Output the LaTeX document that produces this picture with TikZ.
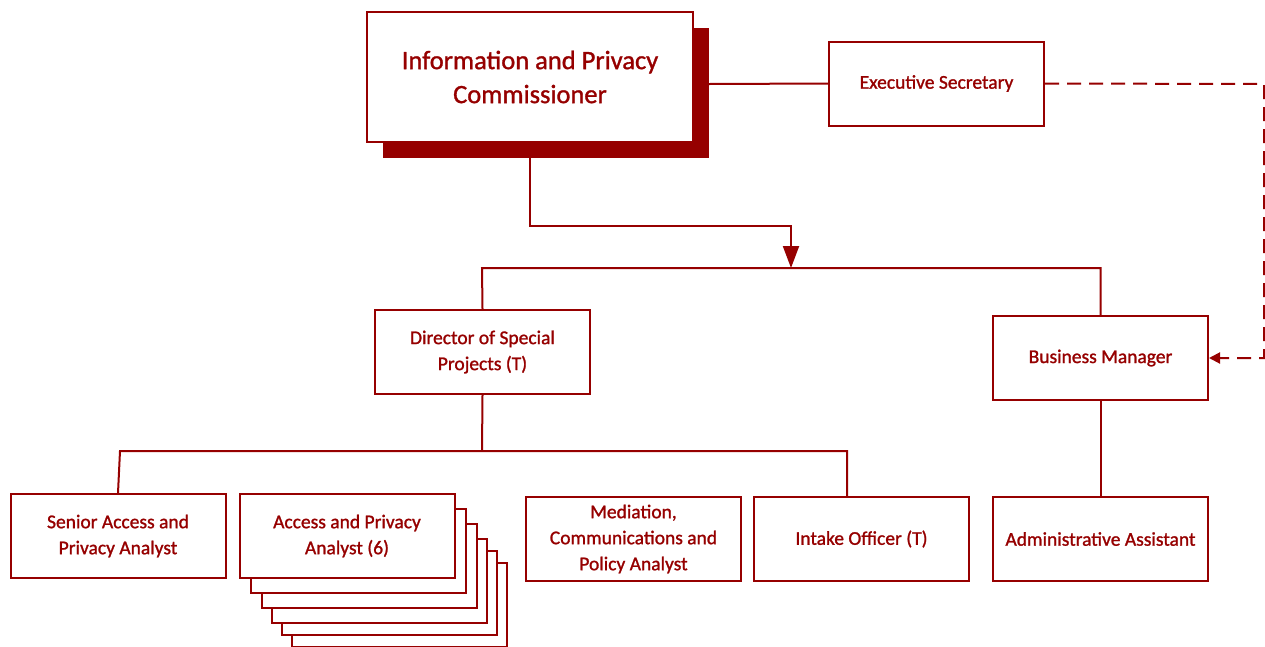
\documentclass[tikz,border=0pt]{standalone}
\usepackage{fontspec}
\setmainfont{Carlito}[FakeBold=1.2]
\usetikzlibrary{arrows.meta}
\definecolor{ipred}{RGB}{150,0,0}
\tikzset{
  post/.style={draw=ipred,fill=white,line width=2pt,minimum width=215pt,minimum height=84pt,
    align=center,text=ipred,inner sep=0pt,font=\fontsize{19.5}{26}\selectfont},
  link/.style={draw=ipred,line width=2pt},
}
\begin{document}
\begin{tikzpicture}[x=1pt,y=-1pt]
    \useasboundingbox (0,0) rectangle (1265,646);
    \clip (0,0) rectangle (1265,646);

    % commissioner with its solid shadow
    \fill[ipred] (383,28) rectangle (709,158);
    \node[post,minimum width=326pt,minimum height=130pt,font=\fontsize{26.5}{34}\selectfont] (comm) at (530,77)
        {Information and Privacy\\Commissioner};
    \node[post] (exec) at (936.5,83.5) {Executive Secretary};

    \node[post] (dir) at (482.5,352) {Director of Special\\Projects (T)};
    \node[post] (bm) at (1100.5,358) {Business Manager};

    % stack behind the analysts
    \foreach \dx/\dy in {52/69,42/57,32/45,22/30,11/15}
        \node[post] at (347+\dx,536+\dy) {};
    \node[post] (senior) at (118,536) {Senior Access and\\Privacy Analyst};
    \node[post] (access) at (347,536) {Access and Privacy\\Analyst (6)};
    \node[post] (med) at (633.5,539) {Mediation,\\Communications and\\Policy Analyst};
    \node[post] (intake) at (861.5,539) {Intake Officer (T)};
    \node[post] (admin) at (1100.5,539) {Administrative Assistant};

    \coordinate (shadowE) at (709,84);
    \coordinate (top) at (791,268);

    \draw[link] (shadowE) -- (exec.west);
    \draw[link,-{Triangle[length=22pt,width=16pt]}] (comm.south) -- (530,226) -| (top);
    \draw[link] (dir.north) -- (482,268) -| (bm.north);
    \draw[link] (dir.south) -- (482,451);
    \draw[link] (senior.north) -- (120,451) -| (847,497);
    \draw[link] (bm.south) -- (admin.north);
    \draw[link,dash pattern=on 14pt off 8pt,-{Triangle[length=11pt,width=11pt]}]
        (exec.east) -- (1264,84) |- (bm.east);
\end{tikzpicture}
\end{document}
